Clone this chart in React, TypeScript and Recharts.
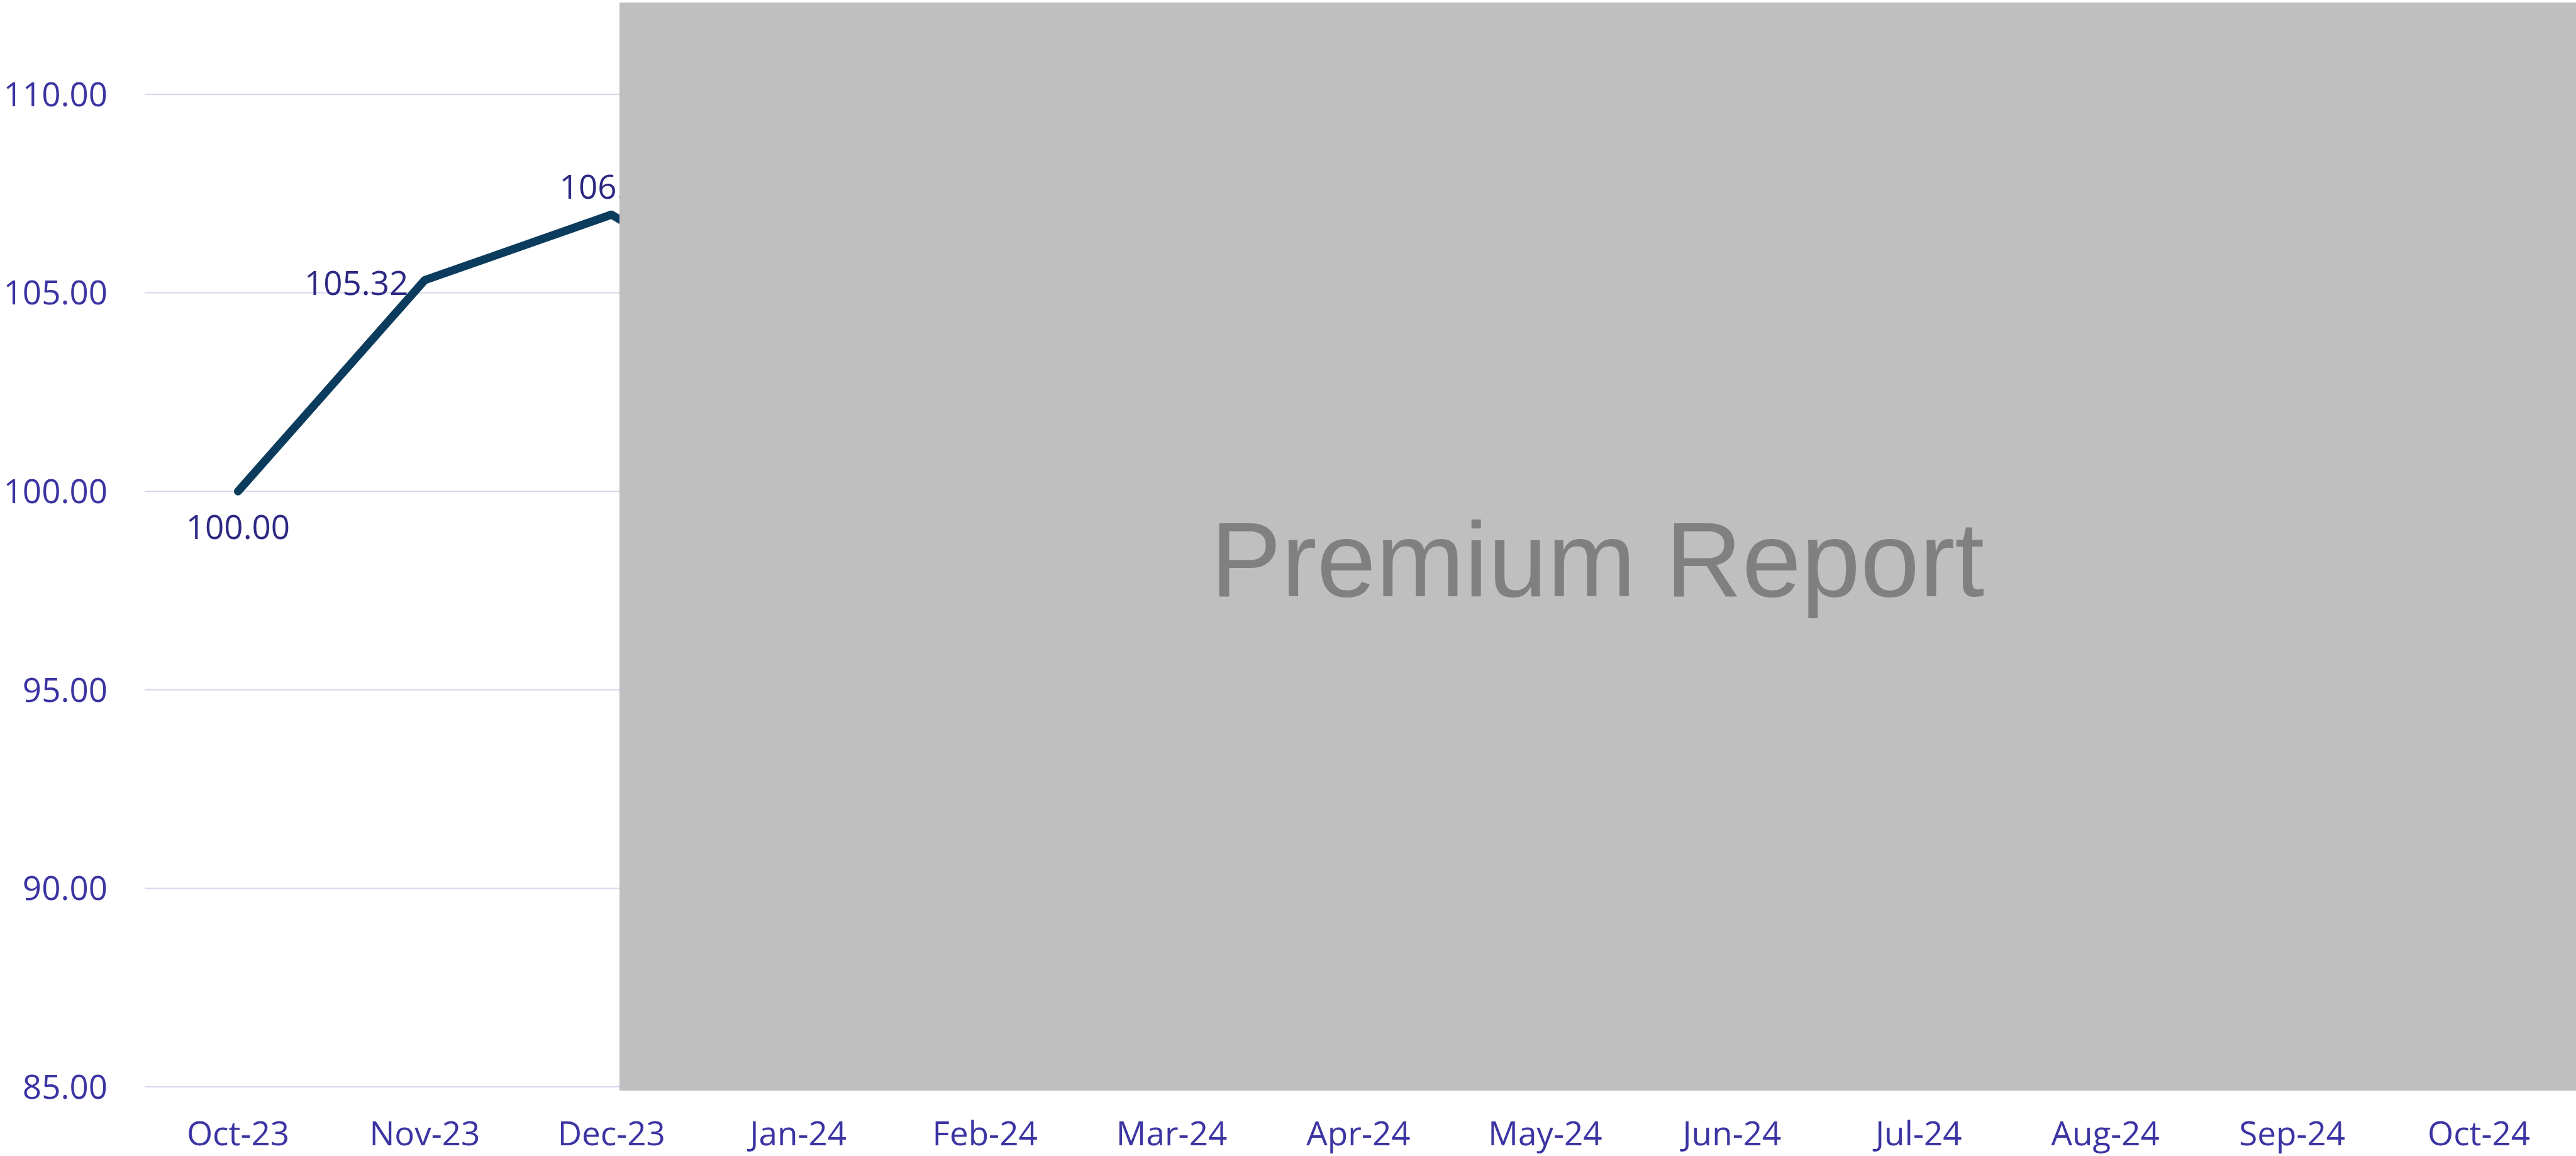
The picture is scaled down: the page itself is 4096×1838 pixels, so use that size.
import { LineChart, Line, XAxis, YAxis, CartesianGrid } from 'recharts';

const months = [
  'Oct-23', 'Nov-23', 'Dec-23', 'Jan-24', 'Feb-24', 'Mar-24', 'Apr-24',
  'May-24', 'Jun-24', 'Jul-24', 'Aug-24', 'Sep-24', 'Oct-24',
];
// only the first points are visible, the rest sit behind the premium overlay
const indexValues: (number | null)[] = [
  100.0, 105.32, 106.97, 104.2, null, null, null, null, null, null, null, null, null,
];
const yTicks = [85, 90, 95, 100, 105, 110];
const labelSpots = ['below', 'left', 'above'];

const data = months.map((m, i) => ({ month: m, value: indexValues[i] }));

const W = 4096;
const H = 1838;
const AXIS_COLOR = '#3B34A2';
const LABEL_COLOR = '#2E2983';
const FONT = '"Open Sans", sans-serif';

const renderLabel = (props: any) => {
  const { x, y, value, index } = props;
  if (value == null) return null;
  const spot = labelSpots[index] || 'above';
  let tx = x;
  let ty = y - 46;
  let anchor: 'middle' | 'end' = 'middle';
  if (spot === 'below') ty = y + 55;
  if (spot === 'left') {
    tx = x - 26;
    ty = y + 3;
    anchor = 'end';
  }
  return (
    <text
      key={`lbl-${index}`}
      x={tx}
      y={ty}
      textAnchor={anchor}
      dominantBaseline="central"
      fill={LABEL_COLOR}
      fontSize={53}
      fontFamily={FONT}
    >
      {Number(value).toFixed(2)}
    </text>
  );
};

export default function App() {
  return (
    <div style={{ position: 'absolute', left: 0, top: 0, width: W, height: H, background: '#fff' }}>
      <LineChart
        width={W}
        height={H}
        data={data}
        margin={{ top: 150, right: 6, bottom: 0, left: 0 }}
      >
        <CartesianGrid vertical={false} stroke="#D8D5F0" strokeWidth={2} />
        <XAxis
          dataKey="month"
          scale="band"
          height={110}
          axisLine={false}
          tickLine={false}
          tickSize={0}
          tickMargin={55}
          interval={0}
          tick={{ fill: AXIS_COLOR, fontSize: 53, fontFamily: FONT }}
        />
        <YAxis
          width={230}
          domain={[85, 110]}
          ticks={yTicks}
          axisLine={false}
          tickLine={false}
          tickSize={0}
          tickMargin={59}
          tickFormatter={(v: number) => v.toFixed(2)}
          tick={{ fill: AXIS_COLOR, fontSize: 53, fontFamily: FONT }}
        />
        <Line
          type="linear"
          dataKey="value"
          stroke="#0B3C5D"
          strokeWidth={13}
          strokeLinecap="round"
          strokeLinejoin="round"
          dot={false}
          activeDot={false}
          label={renderLabel}
          isAnimationActive={false}
        />
      </LineChart>
      {/* premium paywall overlay */}
      <svg
        width={W}
        height={H}
        style={{ position: 'absolute', left: 0, top: 0, pointerEvents: 'none' }}
      >
        <rect x={985} y={4} width={W - 985} height={1730} fill="#BFBFBF" />
        <text
          x={2540}
          y={948}
          textAnchor="middle"
          fill="#808080"
          fontSize={169}
          fontFamily='"Liberation Sans", Arial, sans-serif'
        >
          Premium Report
        </text>
      </svg>
    </div>
  );
}
